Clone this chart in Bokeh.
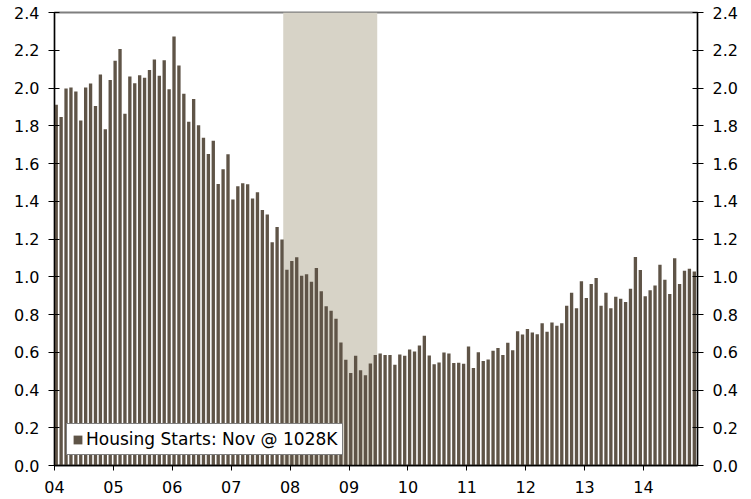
from bokeh.plotting import figure
from bokeh.models import (Range1d, LinearAxis, FixedTicker, NumeralTickFormatter,
                          BoxAnnotation, Legend, LegendItem, ColumnDataSource)
from bokeh.embed import file_html
from bokeh.resources import INLINE

# Housing starts, SAAR, millions (monthly, Jan 2004 - Nov 2014)
starts_2004 = [1.911, 1.846, 1.998, 2.003, 1.981, 1.828, 2.002, 2.024, 1.905, 2.072, 1.782, 2.042]
starts_2005 = [2.144, 2.207, 1.864, 2.061, 2.025, 2.068, 2.054, 2.095, 2.151, 2.065, 2.147, 1.994]
starts_2006 = [2.273, 2.119, 1.969, 1.821, 1.942, 1.802, 1.737, 1.650, 1.720, 1.491, 1.570, 1.649]
starts_2007 = [1.409, 1.480, 1.495, 1.490, 1.415, 1.448, 1.354, 1.330, 1.183, 1.264, 1.197, 1.037]
starts_2008 = [1.084, 1.103, 1.005, 1.013, 0.973, 1.046, 0.923, 0.844, 0.820, 0.777, 0.652, 0.560]
starts_2009 = [0.490, 0.582, 0.505, 0.478, 0.540, 0.585, 0.594, 0.586, 0.585, 0.534, 0.588, 0.581]
starts_2010 = [0.614, 0.604, 0.636, 0.687, 0.583, 0.536, 0.546, 0.599, 0.594, 0.543, 0.545, 0.539]
starts_2011 = [0.630, 0.517, 0.600, 0.554, 0.561, 0.608, 0.623, 0.585, 0.650, 0.611, 0.711, 0.694]
starts_2012 = [0.723, 0.704, 0.695, 0.753, 0.708, 0.757, 0.740, 0.754, 0.847, 0.915, 0.833, 0.976]
starts_2013 = [0.888, 0.962, 0.994, 0.847, 0.915, 0.833, 0.894, 0.883, 0.866, 0.936, 1.105, 1.036]
starts_2014 = [0.897, 0.928, 0.954, 1.063, 0.984, 0.909, 1.098, 0.961, 1.032, 1.043, 1.028]

first_year = 2004
year_labels = ["04", "05", "06", "07", "08", "09", "10", "11", "12", "13", "14"]
y_ticks = [0.0, 0.2, 0.4, 0.6, 0.8, 1.0, 1.2, 1.4, 1.6, 1.8, 2.0, 2.2, 2.4]
recession_start = (2007, 12)
recession_end = (2009, 6)
legend_label = "Housing Starts: Nov @ 1028K"

values = (starts_2004 + starts_2005 + starts_2006 + starts_2007 + starts_2008 + starts_2009
          + starts_2010 + starts_2011 + starts_2012 + starts_2013 + starts_2014)
n = len(values)


def month_index(ym):
    return (ym[0] - first_year) * 12 + (ym[1] - 1)


BAR = "#5f5447"
SHADE = "#d7d3c7"
FONT = "DejaVu Sans"
FS = "16px"

p = figure(frame_width=643, frame_height=453, output_backend="svg", toolbar_location=None,
           x_range=Range1d(0, n), y_range=Range1d(0, 2.4),
           min_border_left=54, min_border_top=12, min_border_right=0, min_border_bottom=0,
           background_fill_color="white", border_fill_color="white")
p.xgrid.visible = False
p.ygrid.visible = False
p.outline_line_color = "#7f7f7f"
p.outline_line_width = 2

shade = BoxAnnotation(left=month_index(recession_start) - 0.4,
                      right=month_index(recession_end) + 0.75,
                      fill_color=SHADE, fill_alpha=1.0, line_color=None, level="underlay")
p.add_layout(shade)

src = ColumnDataSource(dict(x=[i + 0.35 for i in range(n)], top=values))
r = p.vbar(x="x", top="top", width=0.68, bottom=0, source=src,
           fill_color=BAR, line_color=None)

# x axis
xa = p.xaxis[0]
xa.ticker = FixedTicker(ticks=[12 * k for k in range(len(year_labels))])
xa.major_label_overrides = {12 * k: lab for k, lab in enumerate(year_labels)}
xa.major_tick_in = 0
xa.major_tick_out = 5
xa.minor_tick_line_color = None
xa.axis_line_color = "black"
xa.axis_line_width = 1.5
xa.major_tick_line_color = "black"
xa.major_label_text_font = FONT
xa.major_label_text_font_size = FS
xa.major_label_text_color = "black"
xa.major_label_standoff = 10

# y axes
ya = p.yaxis[0]
ra = LinearAxis()
p.add_layout(ra, "right")
for ax in (ya, ra):
    ax.ticker = FixedTicker(ticks=y_ticks)
    ax.formatter = NumeralTickFormatter(format="0.0")
    ax.major_tick_in = 5
    ax.major_tick_out = 6
    ax.minor_tick_line_color = None
    ax.axis_line_color = "black"
    ax.axis_line_width = 1.2
    ax.major_tick_line_color = "black"
    ax.major_label_text_font = FONT
    ax.major_label_text_font_size = FS
    ax.major_label_text_color = "black"
    ax.major_label_standoff = 9

legend = Legend(items=[LegendItem(label=legend_label, renderers=[r])],
                location=(12, 10), orientation="vertical",
                label_text_font=FONT, label_text_font_size="17px", label_text_color="black",
                glyph_width=11, glyph_height=11, label_standoff=3, label_height=18,
                padding=5, margin=0, spacing=0,
                border_line_color="black", border_line_width=1,
                background_fill_color="white", background_fill_alpha=1.0)
p.add_layout(legend, "center")

open("out.html", "w").write(file_html(p, INLINE))
